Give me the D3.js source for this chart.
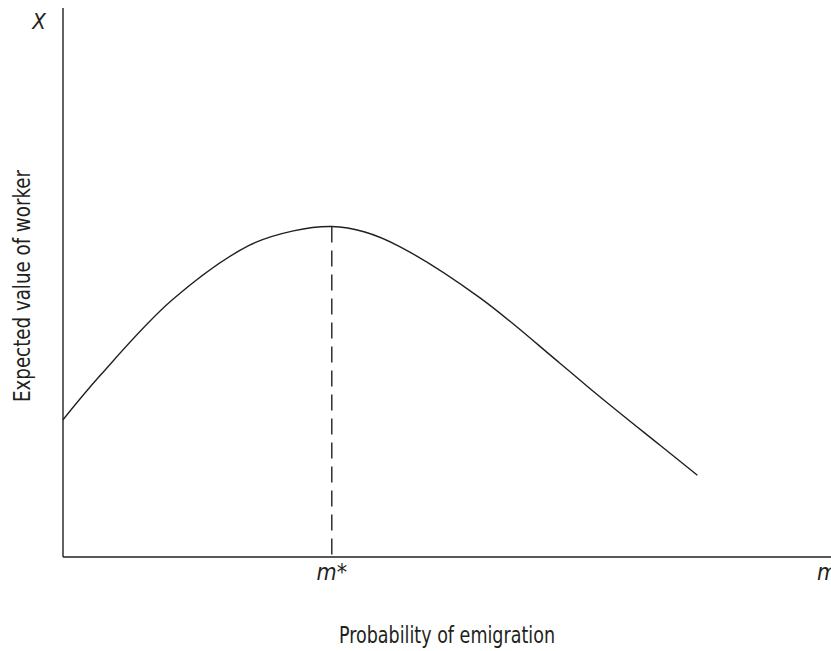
<!DOCTYPE html>
<html><head><meta charset="utf-8">
<script src="https://cdn.jsdelivr.net/npm/d3@7/dist/d3.min.js"></script>
<style>
html,body{margin:0;padding:0;background:#fff;}
text{font-family:"DejaVu Sans Condensed","Liberation Sans Narrow",sans-serif;font-stretch:condensed;fill:#231f20;}
</style></head>
<body><svg id="c" width="831" height="651"></svg>
<script>
// Probability of emigration (0..1) and expected value of worker (0..1)
const curveX = [0, 0.048, 0.142, 0.243, 0.300, 0.350, 0.393, 0.439, 0.543, 0.647, 0.699, 0.777, 0.826];
const curveY = [0.250, 0.330, 0.468, 0.568, 0.594, 0.602, 0.592, 0.565, 0.472, 0.353, 0.292, 0.204, 0.149];
const mStar = 0.350;
const mStarValue = 0.602;
const xTickLabels = [{v: mStar, t: "m*"}, {v: 1, t: "m"}];
const yAxisTopLabel = "X";
const xTitle = "Probability of emigration";
const yTitle = "Expected value of worker";

const svg = d3.select("#c");
const x = d3.scaleLinear().domain([0, 1]).range([63, 831]);
const y = d3.scaleLinear().domain([0, 1]).range([557, 8]);
const ink = "#231f20";

// axes
svg.append("line").attr("x1", x(0)).attr("x2", x(0)).attr("y1", y(1)).attr("y2", y(0))
  .attr("stroke", ink).attr("stroke-width", 1.4);
svg.append("line").attr("x1", x(0)).attr("x2", x(1)).attr("y1", y(0)).attr("y2", y(0))
  .attr("stroke", ink).attr("stroke-width", 1.4);

// dashed line at m*
svg.append("line").attr("x1", x(mStar)).attr("x2", x(mStar)).attr("y1", y(mStarValue)).attr("y2", y(0))
  .attr("stroke", ink).attr("stroke-width", 1.4).attr("stroke-dasharray", "16,8");

// curve
const pts = curveX.map((v, i) => [v, curveY[i]]);
svg.append("path").datum(pts)
  .attr("d", d3.line().x(d => x(d[0])).y(d => y(d[1])).curve(d3.curveCatmullRom.alpha(0.5)))
  .attr("fill", "none").attr("stroke", ink).attr("stroke-width", 1.4);

// tick labels
svg.append("text").attr("x", x(xTickLabels[0].v)).attr("y", 580).attr("text-anchor", "middle")
  .attr("font-style", "italic").attr("font-size", 23).text(xTickLabels[0].t);
svg.append("text").attr("x", 817).attr("y", 580).attr("text-anchor", "start")
  .attr("font-style", "italic").attr("font-size", 23).text(xTickLabels[1].t);
svg.append("text").attr("x", 39).attr("y", 29).attr("text-anchor", "middle")
  .attr("font-style", "italic").attr("font-size", 22).text(yAxisTopLabel);

// titles
svg.append("text").attr("x", 447).attr("y", 643).attr("text-anchor", "middle")
  .attr("font-size", 23).attr("textLength", 216).attr("lengthAdjust", "spacingAndGlyphs").text(xTitle);
svg.append("text").attr("transform", "translate(30,286) rotate(-90)").attr("text-anchor", "middle")
  .attr("font-size", 23).attr("textLength", 232).attr("lengthAdjust", "spacingAndGlyphs").text(yTitle);
</script></body></html>
